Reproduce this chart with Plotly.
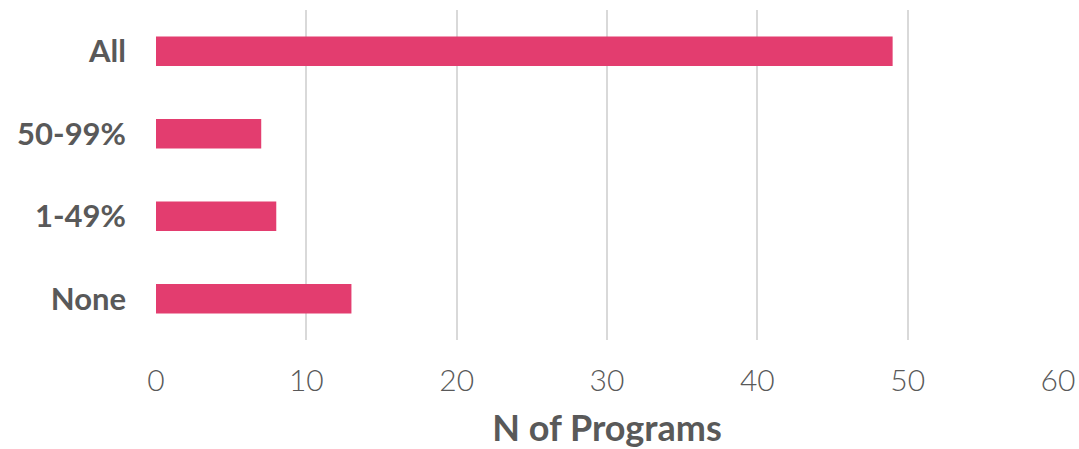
import plotly.graph_objects as go

categories = ["All", "50-99%", "1-49%", "None"]
values = [49, 7, 8, 13]
x_ticks = [0, 10, 20, 30, 40, 50, 60]

fig = go.Figure(go.Bar(
    y=categories, x=values, orientation="h",
    marker=dict(color="#E33D6F", line=dict(width=0)),
    width=0.36,
))

fig.update_layout(
    width=1079, height=449,
    margin=dict(l=156, r=21, t=10, b=109),
    plot_bgcolor="white", paper_bgcolor="white",
    showlegend=False,
    font=dict(family="Lato, sans-serif", color="#595959"),
)
fig.update_xaxes(
    range=[0, 60], tickvals=x_ticks, showgrid=True, gridcolor="#D9D9D9", gridwidth=2,
    zeroline=False, showline=False, automargin=False,
    tickfont=dict(size=30, color="#595959", family="Lato, sans-serif", weight=300),
    ticklabelstandoff=20,
    title=dict(text="N of Programs", font=dict(size=36, color="#595959", family="Lato, sans-serif", weight="bold"), standoff=19),
)
fig.update_yaxes(
    categoryorder="array", categoryarray=categories[::-1],
    autorange=True, showgrid=False, zeroline=False, showline=False, automargin=False,
    tickfont=dict(size=31, color="#595959", family="Lato, sans-serif", weight="bold"),
    ticklabelstandoff=29,
)
fig.write_html(
    "out.html",
    config={"displayModeBar": False},
    post_script="document.body.style.margin='0';document.body.style.overflow='hidden';",
)
